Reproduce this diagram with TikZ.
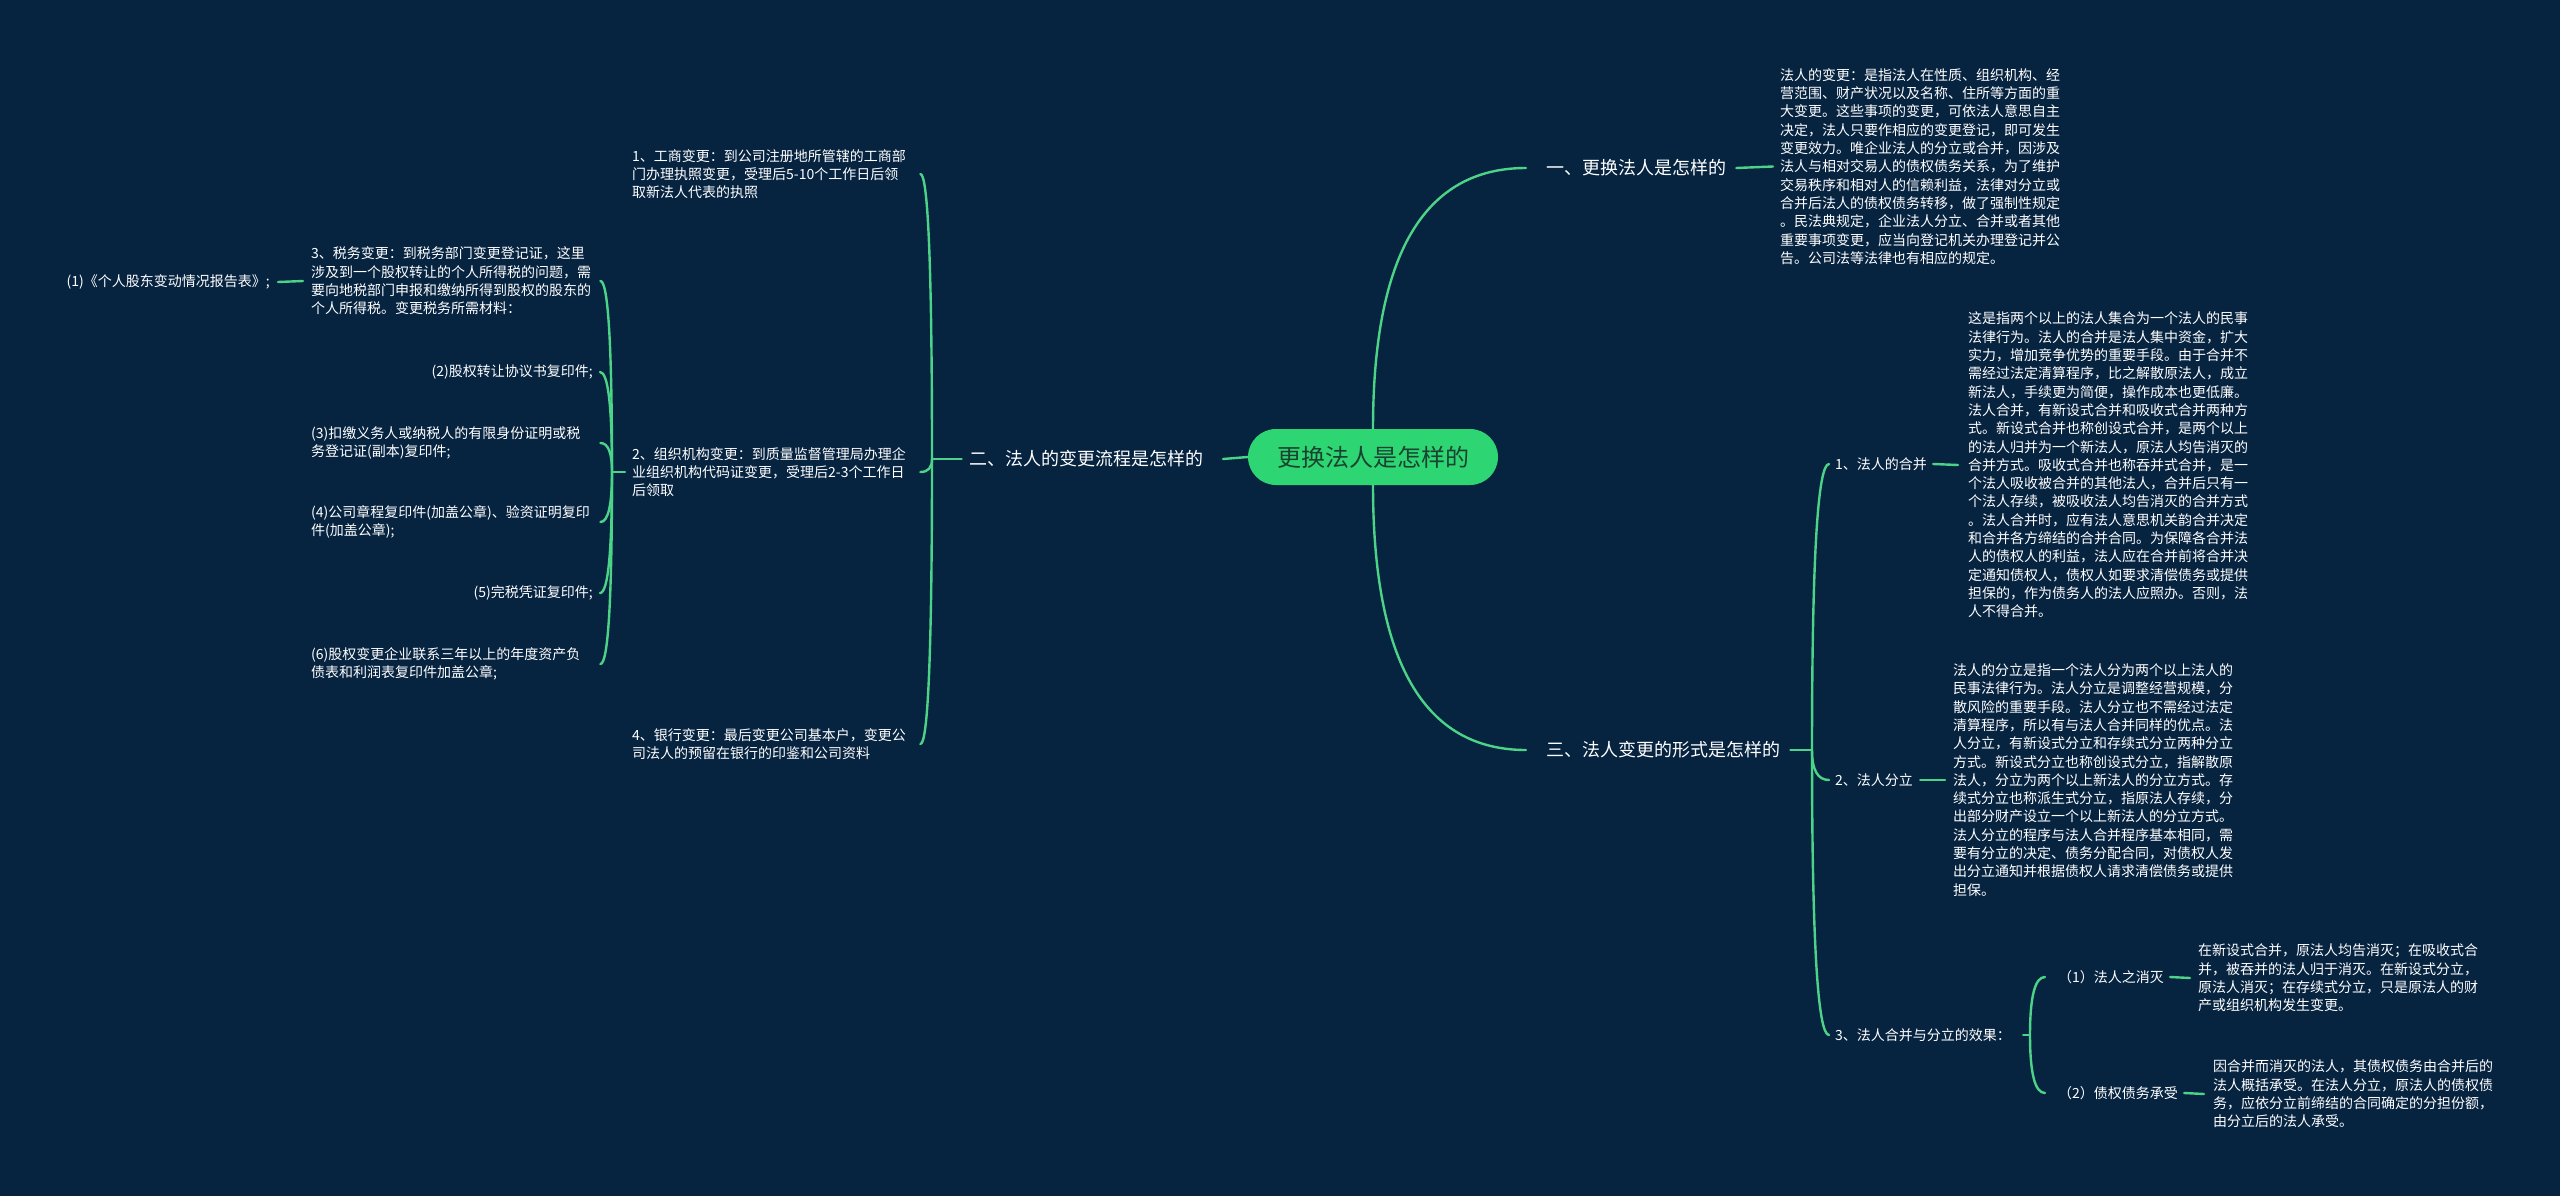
\documentclass[tikz,border=0pt]{standalone}
\usepackage{fontspec}
\setmainfont{Noto Sans CJK SC}
\usetikzlibrary{calc}
\definecolor{bg}{HTML}{062340}
\definecolor{ln}{HTML}{4CD388}
\definecolor{rootfill}{HTML}{2ED573}
\definecolor{roottext}{HTML}{1A4230}
\tikzset{
 conn/.style={draw=ln, line width=2.4pt, line cap=round},
 qto/.style={to path={.. controls ($(\tikztostart)!0.667!(\tikztostart|-\tikztotarget)$) and ($(\tikztotarget)!0.667!(\tikztostart|-\tikztotarget)$) .. (\tikztotarget)}},
 blk/.style={text=white, font=\fontsize{14}{18.3}\selectfont, align=left, inner sep=0pt, anchor=west},
 lbl/.style={text=white, font=\fontsize{18}{22}\selectfont, inner sep=0pt},
 sub/.style={text=white, font=\fontsize{14}{18}\selectfont, inner sep=0pt, anchor=west},
 rootbox/.style={fill=rootfill, rounded corners=28pt, minimum width=250pt, minimum height=56pt, text=roottext, font=\fontsize{24}{28}\selectfont, inner sep=0pt},
}
\begin{document}
\begin{tikzpicture}[x=1pt,y=-1pt]
\fill[bg] (0,0) rectangle (2560,1196);
\useasboundingbox (0,0) rectangle (2560,1196);

\node[rootbox] (root) at (1373,457) {更换法人是怎样的};

% main branches
\node[lbl, anchor=west] (b1) at (1546,168) {一、更换法人是怎样的};
\node[lbl, anchor=west] (b3) at (1546,750) {三、法人变更的形式是怎样的};
\node[lbl, anchor=east] (b2) at (1204,459) {二、法人的变更流程是怎样的};
\coordinate (b1in) at ([xshift=-20]b1.west);
\coordinate (b3in) at ([xshift=-20]b3.west);
\draw[conn] (root.north) to[qto] (b1in);
\draw[conn] (root.south) to[qto] (b3in);
\draw[conn] (root.west) -- ([xshift=19]b2.east);

% branch 1
\node[blk] (k1) at (1780,166.5) {法人的变更：是指法人在性质、组织机构、经\\
营范围、财产状况以及名称、住所等方面的重\\
大变更。这些事项的变更，可依法人意思自主\\
决定，法人只要作相应的变更登记，即可发生\\
变更效力。唯企业法人的分立或合并，因涉及\\
法人与相对交易人的债权债务关系，为了维护\\
交易秩序和相对人的信赖利益，法律对分立或\\
合并后法人的债权债务转移，做了强制性规定\\
。民法典规定，企业法人分立、合并或者其他\\
重要事项变更，应当向登记机关办理登记并公\\
告。公司法等法律也有相应的规定。};
\draw[conn] ([xshift=10]b1.east) -- ([xshift=-7]k1.west);

% branch 3
\coordinate (j3) at (1812,750);
\draw[conn] ([xshift=10]b3.east) -- (j3);
\node[sub] (c31) at (1835,464) {1、法人的合并};
\node[sub] (c32) at (1835,780) {2、法人分立};
\node[sub] (c33) at (1835,1035) {3、法人合并与分立的效果：};
\coordinate (c31in) at ([xshift=-6]c31.west);
\coordinate (c32in) at ([xshift=-6]c32.west);
\coordinate (c33in) at ([xshift=-6]c33.west);
\draw[conn] (j3) to[qto] (c31in);
\draw[conn] (j3) to[qto] (c32in);
\draw[conn] (j3) to[qto] (c33in);

\node[blk] (k2) at (1968,465) {这是指两个以上的法人集合为一个法人的民事\\
法律行为。法人的合并是法人集中资金，扩大\\
实力，增加竞争优势的重要手段。由于合并不\\
需经过法定清算程序，比之解散原法人，成立\\
新法人，手续更为简便，操作成本也更低廉。\\
法人合并，有新设式合并和吸收式合并两种方\\
式。新设式合并也称创设式合并，是两个以上\\
的法人归并为一个新法人，原法人均告消灭的\\
合并方式。吸收式合并也称吞并式合并，是一\\
个法人吸收被合并的其他法人，合并后只有一\\
个法人存续，被吸收法人均告消灭的合并方式\\
。法人合并时，应有法人意思机关韵合并决定\\
和合并各方缔结的合并合同。为保障各合并法\\
人的债权人的利益，法人应在合并前将合并决\\
定通知债权人，债权人如要求清偿债务或提供\\
担保的，作为债务人的法人应照办。否则，法\\
人不得合并。};
\draw[conn] ([xshift=6]c31.east) -- ([xshift=-10]k2.west);

\node[blk] (k3) at (1953,780) {法人的分立是指一个法人分为两个以上法人的\\
民事法律行为。法人分立是调整经营规模，分\\
散风险的重要手段。法人分立也不需经过法定\\
清算程序，所以有与法人合并同样的优点。法\\
人分立，有新设式分立和存续式分立两种分立\\
方式。新设式分立也称创设式分立，指解散原\\
法人，分立为两个以上新法人的分立方式。存\\
续式分立也称派生式分立，指原法人存续，分\\
出部分财产设立一个以上新法人的分立方式。\\
法人分立的程序与法人合并程序基本相同，需\\
要有分立的决定、债务分配合同，对债权人发\\
出分立通知并根据债权人请求清偿债务或提供\\
担保。};
\draw[conn] ([xshift=7]c32.east) -- ([xshift=-8]k3.west);

\coordinate (j33) at (2030,1035);
\draw[conn] ([xshift=12]c33.east) -- (j33);
\node[sub] (d1) at (2058,977) {（1）法人之消灭};
\node[sub] (d2) at (2058,1093) {（2）债权债务承受};
\coordinate (d1in) at ([xshift=-13]d1.west);
\coordinate (d2in) at ([xshift=-13]d2.west);
\draw[conn] (j33) to[qto] (d1in);
\draw[conn] (j33) to[qto] (d2in);

\node[blk] (k4) at (2198,978) {在新设式合并，原法人均告消灭；在吸收式合\\
并，被吞并的法人归于消灭。在新设式分立，\\
原法人消灭；在存续式分立，只是原法人的财\\
产或组织机构发生变更。};
\draw[conn] ([xshift=6]d1.east) -- ([xshift=-8]k4.west);

\node[blk] (k5) at (2213,1094) {因合并而消灭的法人，其债权债务由合并后的\\
法人概括承受。在法人分立，原法人的债权债\\
务，应依分立前缔结的合同确定的分担份额，\\
由分立后的法人承受。};
\draw[conn] ([xshift=6]d2.east) -- ([xshift=-9]k5.west);

% branch 2 (left)
\coordinate (j2) at (932,459);
\draw[conn] ([xshift=-8]b2.west) -- (j2);
\node[blk, text width=282pt] (a1) at (632,174) {1、工商变更：到公司注册地所管辖的工商部\\
门办理执照变更，受理后5-10个工作日后领\\
取新法人代表的执照};
\node[blk, text width=282pt] (a2) at (632,472) {2、组织机构变更：到质量监督管理局办理企\\
业组织机构代码证变更，受理后2-3个工作日\\
后领取};
\node[blk, text width=282pt] (a4) at (632,744) {4、银行变更：最后变更公司基本户，变更公\\
司法人的预留在银行的印鉴和公司资料};
\coordinate (a1e) at ([xshift=6]a1.east);
\coordinate (a2e) at ([xshift=6]a2.east);
\coordinate (a4e) at ([xshift=6]a4.east);
\draw[conn] (j2) to[qto] (a1e);
\draw[conn] (j2) to[qto] (a2e);
\draw[conn] (j2) to[qto] (a4e);

\coordinate (j22) at (612,472);
\draw[conn] ([xshift=-7]a2.west) -- (j22);
\node[blk, text width=282pt] (a3) at (311,281) {3、税务变更：到税务部门变更登记证，这里\\
涉及到一个股权转让的个人所得税的问题，需\\
要向地税部门申报和缴纳所得到股权的股东的\\
个人所得税。变更税务所需材料：};
\node[sub, anchor=east] (p2) at (593,372) {(2)股权转让协议书复印件;};
\node[blk, text width=282pt] (p3) at (311,443) {(3)扣缴义务人或纳税人的有限身份证明或税\\
务登记证(副本)复印件;};
\node[blk, text width=282pt] (p4) at (311,522) {(4)公司章程复印件(加盖公章)、验资证明复印\\
件(加盖公章);};
\node[sub, anchor=east] (p5) at (593,593) {(5)完税凭证复印件;};
\node[blk, text width=282pt] (p6) at (311,664) {(6)股权变更企业联系三年以上的年度资产负\\
债表和利润表复印件加盖公章;};
\coordinate (a3e) at ([xshift=7]a3.east);
\coordinate (p2e) at ([xshift=7]p2.east);
\coordinate (p3e) at ([xshift=7]p3.east);
\coordinate (p4e) at ([xshift=7]p4.east);
\coordinate (p5e) at ([xshift=7]p5.east);
\coordinate (p6e) at ([xshift=7]p6.east);
\draw[conn] (j22) to[qto] (a3e);
\draw[conn] (j22) to[qto] (p2e);
\draw[conn] (j22) to[qto] (p3e);
\draw[conn] (j22) to[qto] (p4e);
\draw[conn] (j22) to[qto] (p5e);
\draw[conn] (j22) to[qto] (p6e);

\node[sub, anchor=east] (p1) at (270,282) {(1)《个人股东变动情况报告表》;};
\draw[conn] ([xshift=-8]a3.west) -- ([xshift=8]p1.east);
\end{tikzpicture}
\end{document}
